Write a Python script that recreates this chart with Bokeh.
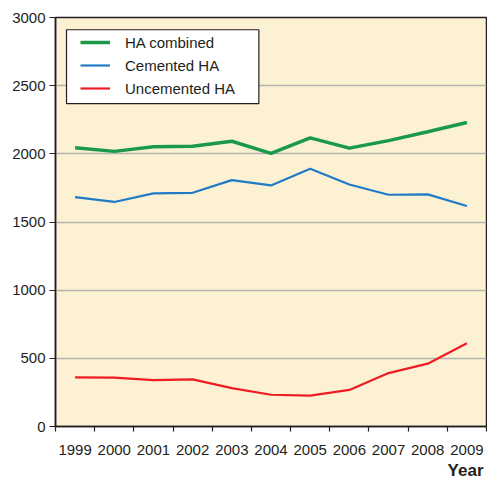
from bokeh.plotting import figure
from bokeh.models import Range1d, FixedTicker, Legend, LegendItem, BoxAnnotation, Title
from bokeh.embed import file_html
from bokeh.resources import INLINE

years = ["1999", "2000", "2001", "2002", "2003", "2004", "2005", "2006", "2007", "2008", "2009"]
ha_combined = [2045, 2018, 2052, 2056, 2092, 2003, 2117, 2042, 2097, 2162, 2230]
cemented_ha = [1683, 1647, 1710, 1714, 1807, 1768, 1890, 1775, 1700, 1703, 1617]
uncemented_ha = [361, 358, 340, 346, 281, 233, 226, 268, 392, 461, 610]
y_ticks = [0, 500, 1000, 1500, 2000, 2500, 3000]

FONT = "Liberation Sans"
TXT = "#231f20"

xs = [i + 0.5 for i in range(len(years))]

p = figure(width=487, height=481, output_backend="svg", toolbar_location=None,
           x_range=Range1d(0, len(years)), y_range=Range1d(0, 3000),
           min_border_left=55, min_border_right=1, min_border_top=17, min_border_bottom=0)
p.background_fill_color = "#fdf1d4"
p.border_fill_color = "white"
p.outline_line_color = TXT
p.outline_line_width = 1.5

# x axis: labels at category centers, ticks at category boundaries
p.xaxis.ticker = FixedTicker(ticks=xs, minor_ticks=list(range(len(years) + 1)))
p.xaxis.major_label_overrides = {x: y for x, y in zip(xs, years)}
p.xaxis.major_tick_line_color = None
p.xaxis.major_tick_out = 0
p.xaxis.major_tick_in = 0
p.xaxis.minor_tick_line_color = TXT
p.xaxis.minor_tick_line_width = 1.2
p.xaxis.minor_tick_out = 5
p.xaxis.minor_tick_in = 0
p.xaxis.major_label_standoff = 13
p.xaxis.axis_line_color = TXT
p.xaxis.axis_line_width = 1.5

p.yaxis.ticker = FixedTicker(ticks=y_ticks, minor_ticks=[])
p.yaxis.major_tick_out = 6
p.yaxis.major_tick_in = 0
p.yaxis.major_tick_line_color = TXT
p.yaxis.major_tick_line_width = 1.2
p.yaxis.major_label_standoff = 4
p.yaxis.axis_line_color = TXT
p.yaxis.axis_line_width = 1.5

for ax in (p.xaxis, p.yaxis):
    ax.major_label_text_font = FONT
    ax.major_label_text_font_size = "15px"
    ax.major_label_text_color = TXT

p.xgrid.visible = False
p.ygrid.ticker = FixedTicker(ticks=y_ticks[1:-1])
p.ygrid.grid_line_color = "#b5b3ad"
p.ygrid.grid_line_width = 1.5

r1 = p.line(xs, ha_combined, line_color="#1a9a48", line_width=3.5)
r2 = p.line(xs, cemented_ha, line_color="#1f7bc6", line_width=2.2)
r3 = p.line(xs, uncemented_ha, line_color="#ee1d25", line_width=2.2)

box = BoxAnnotation(left=0.281, right=5.19, top=2910, bottom=2368,
                    fill_color="white", fill_alpha=1.0, line_color=TXT, line_width=1.2,
                    line_alpha=1.0)
p.add_layout(box)

legend = Legend(items=[LegendItem(label="HA combined", renderers=[r1]),
                       LegendItem(label="Cemented HA", renderers=[r2]),
                       LegendItem(label="Uncemented HA", renderers=[r3])],
                location=(25, 328), padding=0, margin=0, spacing=3,
                glyph_width=30, glyph_height=20, label_height=20, label_standoff=15,
                background_fill_alpha=0, border_line_color=None,
                label_text_font=FONT, label_text_font_size="15px", label_text_color=TXT)
p.add_layout(legend)

year_title = Title(text="Year", align="right", text_font=FONT, text_font_size="17px",
                   text_font_style="bold", text_color=TXT, standoff=3, offset=3)
p.add_layout(year_title, "below")

open("out.html", "w").write(file_html(p, INLINE))
